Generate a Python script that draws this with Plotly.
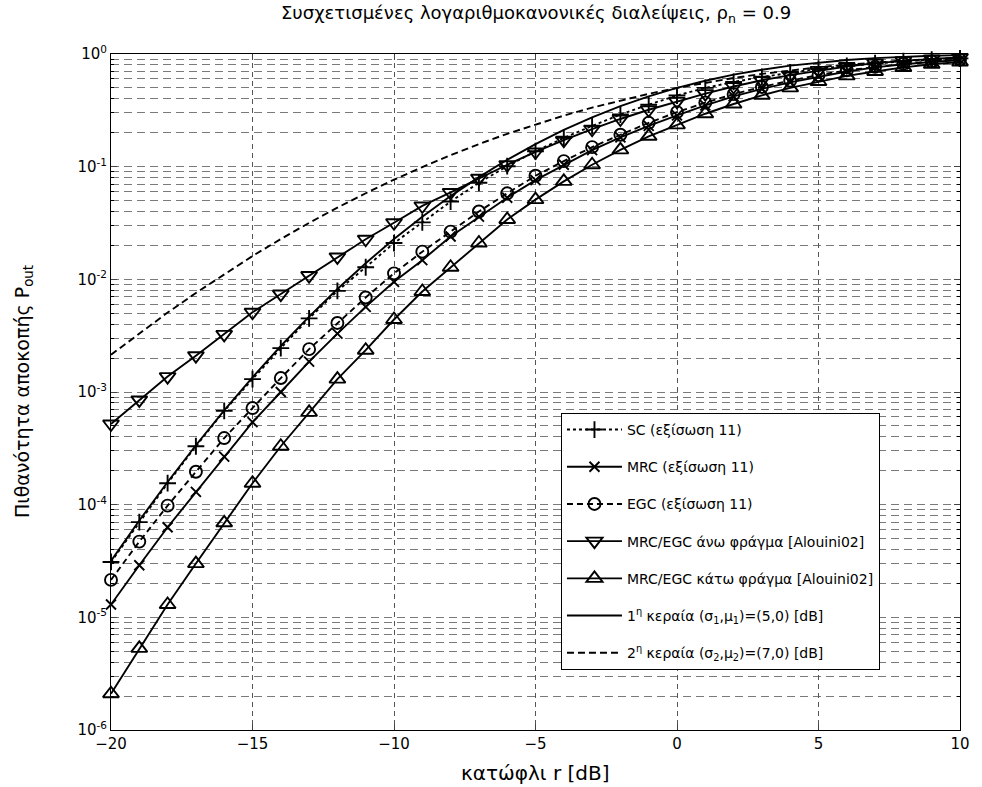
import plotly.graph_objects as go

# Threshold r [dB]
r_db = list(range(-20, 11))

# Outage probability values per scheme
sc = [3.1e-5, 7.0e-5, 1.55e-4, 3.3e-4, 6.8e-4, 1.3e-3, 2.45e-3, 4.5e-3, 7.9e-3, 0.0128,
      0.021, 0.032, 0.049, 0.072, 0.101, 0.137, 0.18, 0.23, 0.29, 0.355,
      0.428, 0.50, 0.565, 0.625, 0.685, 0.74, 0.785, 0.828, 0.862, 0.892, 0.915]
mrc = [1.3e-5, 2.9e-5, 6.3e-5, 1.3e-4, 2.67e-4, 5.4e-4, 1.0e-3, 1.86e-3, 3.3e-3, 5.7e-3,
       9.5e-3, 0.0148, 0.024, 0.036, 0.053, 0.076, 0.104, 0.14, 0.182, 0.23,
       0.285, 0.35, 0.42, 0.49, 0.56, 0.63, 0.70, 0.76, 0.81, 0.85, 0.885]
egc = [2.15e-5, 4.7e-5, 9.8e-5, 1.96e-4, 3.9e-4, 7.2e-4, 1.33e-3, 2.4e-3, 4.1e-3, 6.9e-3,
       0.0113, 0.0176, 0.0265, 0.040, 0.058, 0.083, 0.112, 0.149, 0.192, 0.245,
       0.305, 0.37, 0.44, 0.51, 0.58, 0.65, 0.715, 0.77, 0.82, 0.86, 0.89]
upper = [5.2e-4, 8.5e-4, 1.37e-3, 2.1e-3, 3.25e-3, 5.1e-3, 7.4e-3, 0.0108, 0.0158, 0.0227,
         0.0318, 0.0448, 0.059, 0.079, 0.104, 0.135, 0.172, 0.215, 0.265, 0.32,
         0.38, 0.445, 0.515, 0.585, 0.65, 0.715, 0.775, 0.83, 0.87, 0.905, 0.93]
lower = [2.1e-6, 5.3e-6, 1.3e-5, 3.0e-5, 6.9e-5, 1.55e-4, 3.3e-4, 6.6e-4, 1.3e-3, 2.35e-3,
         4.4e-3, 7.8e-3, 0.0128, 0.021, 0.034, 0.051, 0.074, 0.104, 0.141, 0.186,
         0.235, 0.295, 0.36, 0.43, 0.50, 0.57, 0.64, 0.70, 0.76, 0.81, 0.85]
ant1 = [3.17e-5, 7.23e-5, 1.59e-4, 3.37e-4, 6.87e-4, 1.35e-3, 2.56e-3, 4.66e-3, 8.2e-3, 0.0139,
        0.0228, 0.0359, 0.0548, 0.0808, 0.1151, 0.1587, 0.2119, 0.2743, 0.3446, 0.4207,
        0.5, 0.5793, 0.6554, 0.7257, 0.7881, 0.8413, 0.8849, 0.9192, 0.9452, 0.9641, 0.9772]
ant2 = [2.14e-3, 3.32e-3, 5.07e-3, 7.57e-3, 0.0111, 0.0161, 0.0228, 0.0317, 0.0433, 0.0581,
        0.0766, 0.0993, 0.1265, 0.1587, 0.1957, 0.2375, 0.2839, 0.3341, 0.3875, 0.4432,
        0.5, 0.5568, 0.6125, 0.6659, 0.7161, 0.7625, 0.8043, 0.8413, 0.8735, 0.9007, 0.9234]

x_ticks = [-20, -15, -10, -5, 0, 5, 10]
y_ticks = [1e-6, 1e-5, 1e-4, 1e-3, 1e-2, 1e-1, 1]
y_ticktext = ["10<sup>-6</sup>", "10<sup>-5</sup>", "10<sup>-4</sup>", "10<sup>-3</sup>",
              "10<sup>-2</sup>", "10<sup>-1</sup>", "10<sup>0</sup>"]
y_minor = [m * 10.0 ** e for e in range(-6, 0) for m in range(2, 10)]

FONT = "DejaVu Sans, Liberation Sans, sans-serif"

series = [
    ("SC (εξίσωση 11)", sc, "dot", "cross-thin-open", 12),
    ("MRC (εξίσωση 11)", mrc, "solid", "x-thin-open", 10),
    ("EGC (εξίσωση 11)", egc, "dash", "circle-open", 12),
    ("MRC/EGC άνω φράγμα [Alouini02]", upper, "solid", "triangle-down-open", 14),
    ("MRC/EGC κάτω φράγμα [Alouini02]", lower, "solid", "triangle-up-open", 14),
]

fig = go.Figure()
for i, (name, vals, dash, sym, size) in enumerate(series):
    fig.add_trace(go.Scatter(
        x=r_db, y=vals, name=name, mode="lines+markers",
        line=dict(color="black", width=1.9, dash=dash if dash != "dash" else "6px,4px"),
        marker=dict(symbol=sym, size=size, color="black",
                    line=dict(color="black", width=1.9)),
        cliponaxis=False, legendgroup=f"g{i}",
    ))

fig.add_trace(go.Scatter(
    x=r_db, y=ant1, name="1<sup>η</sup> κεραία (σ<sub>1</sub>,μ<sub>1</sub>)=(5,0) [dB]",
    mode="lines", line=dict(color="black", width=1.9), legendgroup="g5",
))
fig.add_trace(go.Scatter(
    x=r_db, y=ant2, name="2<sup>η</sup> κεραία (σ<sub>2</sub>,μ<sub>2</sub>)=(7,0) [dB]",
    mode="lines", line=dict(color="black", width=1.9, dash="7px,4px"), legendgroup="g6",
))

fig.update_layout(
    width=982, height=787,
    margin=dict(l=111, r=13, t=54, b=57),
    paper_bgcolor="white", plot_bgcolor="white",
    font=dict(family=FONT, size=15, color="black"),
    showlegend=True,
    legend=dict(
        x=0.530, y=0.469, xanchor="left", yanchor="top",
        bgcolor="white", bordercolor="black", borderwidth=1,
        font=dict(family=FONT, size=14, color="black"),
        tracegroupgap=16, itemwidth=55,
    ),
    xaxis=dict(
        range=[-20, 10], tickvals=x_ticks, ticks="inside", ticklen=6,
        showline=True, linecolor="black", linewidth=1, mirror="ticks",
        showgrid=True, gridcolor="#555555", griddash="5px,4px", gridwidth=1,
        zeroline=False, tickfont=dict(size=15),
    ),
    yaxis=dict(
        type="log", range=[-6, 0], tickvals=y_ticks, ticktext=y_ticktext,
        ticks="inside", ticklen=6,
        showline=True, linecolor="black", linewidth=1, mirror="ticks",
        showgrid=True, gridcolor="#7a7a7a", griddash="8px,5px", gridwidth=1,
        zeroline=False, tickfont=dict(size=15),
        minor=dict(tickvals=y_minor, ticks="inside", ticklen=3, tickcolor="black",
                   showgrid=True, gridcolor="#7a7a7a", griddash="8px,5px", gridwidth=1),
    ),
    annotations=[
        dict(text="Συσχετισμένες λογαριθμοκανονικές διαλείψεις, ρ<sub>n</sub> = 0.9",
             xref="paper", yref="paper", x=0.5, y=1, yshift=40,
             xanchor="center", yanchor="middle", showarrow=False,
             font=dict(family=FONT, size=18)),
        dict(text="κατώφλι r [dB]", xref="paper", yref="paper", x=0.5, y=0, yshift=-43,
             xanchor="center", yanchor="middle", showarrow=False,
             font=dict(family=FONT, size=20)),
        dict(text="Πιθανότητα αποκοπής P<sub>out</sub>", xref="paper", yref="paper",
             x=0, y=0.5, xshift=-88, xanchor="center", yanchor="middle",
             textangle=-90, showarrow=False, font=dict(family=FONT, size=19)),
    ],
)

fig.write_html("out.html")
